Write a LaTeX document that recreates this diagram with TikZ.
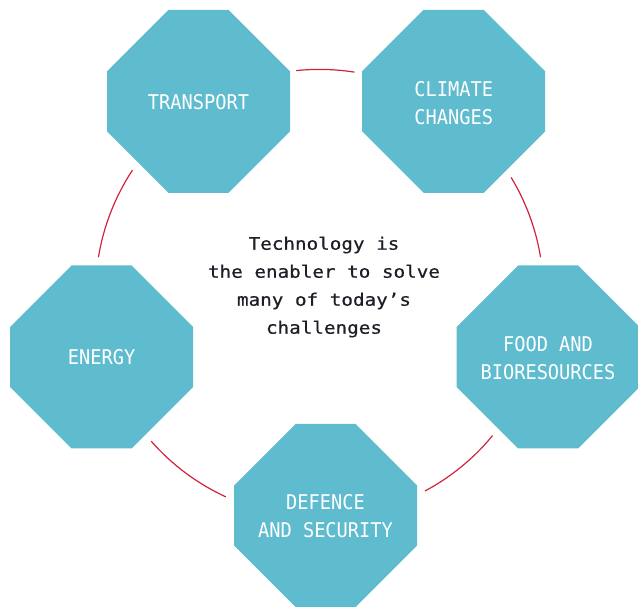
\documentclass[tikz,border=0pt]{standalone}
\usepackage{fontspec}
\newfontfamily\labelfont[FakeStretch=0.92]{DejaVu Sans Mono}
\newfontfamily\centerfont[FakeStretch=1.12,FakeBold=0.6]{DejaVu Sans Mono}
\definecolor{octteal}{RGB}{95,188,207}
\definecolor{arcred}{RGB}{208,36,58}
\definecolor{textdark}{RGB}{30,30,40}
\newcommand\octshape[1]{%
  \fill[octteal] ([shift={(-91.5pt,-30pt)}]#1) -- ([shift={(-30pt,-91.5pt)}]#1) -- ([shift={(30pt,-91.5pt)}]#1) -- ([shift={(91.5pt,-30pt)}]#1) -- ([shift={(91.5pt,30pt)}]#1) -- ([shift={(30pt,91.5pt)}]#1) -- ([shift={(-30pt,91.5pt)}]#1) -- ([shift={(-91.5pt,30pt)}]#1) -- cycle;}
\tikzset{
  octlabel/.style={text=white, font=\labelfont\fontsize{20.3}{28}\selectfont, align=center, inner sep=0pt, text depth=0pt},
  centertext/.style={text=textdark, font=\centerfont\fontsize{17.2}{28}\selectfont, align=center, inner sep=0pt},
  redarc/.style={draw=arcred, line width=1.2pt}
}
\begin{document}
\begin{tikzpicture}[x=1pt,y=1pt]
\useasboundingbox (0,0) rectangle (638,606);
\coordinate (ptransport) at (198.5,504.5);
\coordinate (pclimate) at (453.7,504.7);
\coordinate (pfood) at (548,249);
\coordinate (penergy) at (101.7,249);
\coordinate (pdefence) at (325.5,90.5);
\coordinate (c) at (319.5,312.6);
\octshape{ptransport}
\octshape{pclimate}
\octshape{pfood}
\octshape{penergy}
\octshape{pdefence}
\node[octlabel] (transport) at (ptransport) {TRANSPORT};
\node[octlabel] (climate) at ([yshift=-2pt]pclimate) {CLIMATE\\CHANGES};
\node[octlabel] (food) at ([yshift=-1pt]pfood) {FOOD AND\\BIORESOURCES};
\node[octlabel] (energy) at (penergy) {ENERGY};
\node[octlabel] (defence) at (pdefence) {DEFENCE\\AND SECURITY};
\node[centertext] (center) at (324,319) {Technology is\\the enabler to solve\\many of today’s\\challenges};
\draw[redarc] (c) ++(81:224pt) arc[start angle=81, end angle=96, radius=224pt];
\draw[redarc] (c) ++(146.6:224pt) arc[start angle=146.6, end angle=170.7, radius=224pt];
\draw[redarc] (c) ++(221.3:224pt) arc[start angle=221.3, end angle=245.3, radius=224pt];
\draw[redarc] (c) ++(298.1:224pt) arc[start angle=298.1, end angle=320.6, radius=224pt];
\draw[redarc] (c) ++(9.3:224pt) arc[start angle=9.3, end angle=31.2, radius=224pt];
\end{tikzpicture}
\end{document}
